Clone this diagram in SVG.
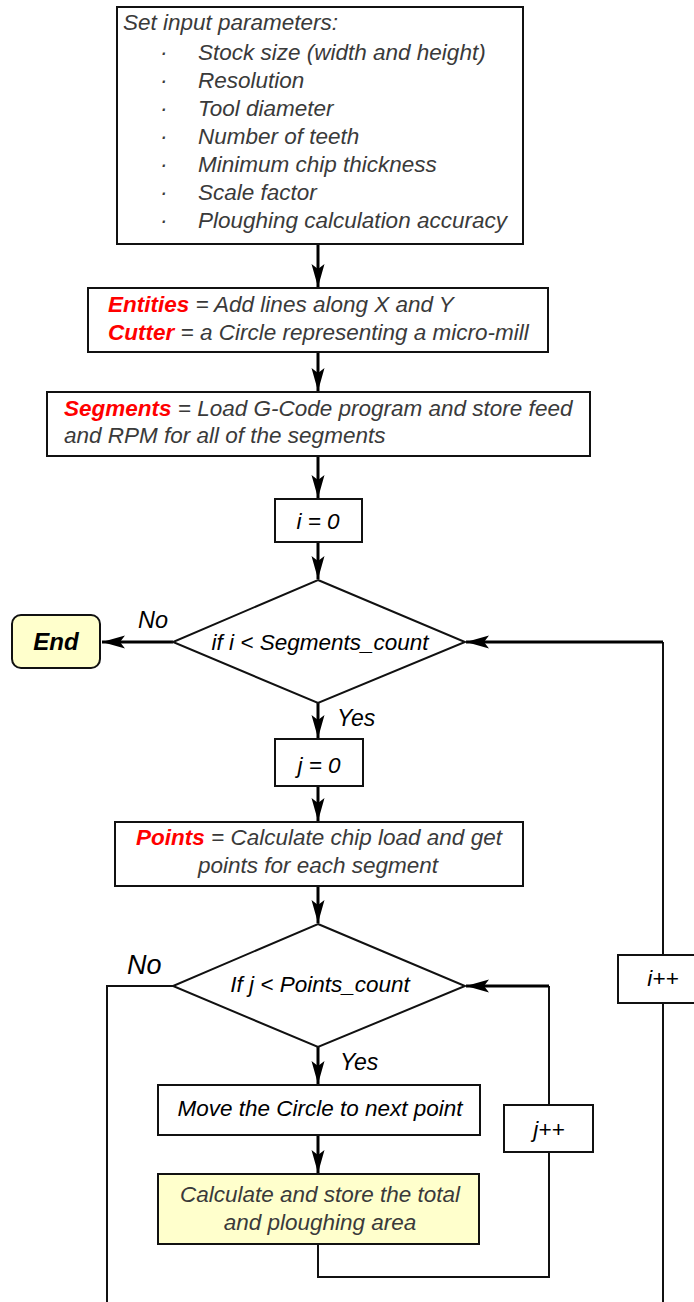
<svg xmlns="http://www.w3.org/2000/svg" width="694" height="1302" viewBox="0 0 694 1302">
  <style>
    text { font-family: "Liberation Sans", Arial, sans-serif; font-style: italic; font-size: 22.5px; }
    .gray { fill: #3a3a3a; }
    .dark { fill: #000; }
    .key { fill: #ff0000; font-weight: bold; }
    .mid { text-anchor: middle; }
    .box { fill: #fff; stroke: #111; stroke-width: 2; }
    .note { fill: #ffffcc; stroke: #111; stroke-width: 2; }
    .flow { fill: none; stroke: #000; stroke-width: 3; }
    .loop { fill: none; stroke: #111; stroke-width: 2; }
  </style>
  <defs>
    <marker id="head" viewBox="-24 -8 26 16" refX="0" refY="0" markerWidth="26" markerHeight="16" markerUnits="userSpaceOnUse" orient="auto">
      <path d="M0,0 L-23,-6.5 L-18,0 L-23,6.5 Z" fill="#000"/>
    </marker>
  </defs>

  <rect width="694" height="1302" fill="#fff"/>

  <!-- connectors -->
  <g id="connectors">
    <line class="flow" x1="318" y1="244" x2="318" y2="287" marker-end="url(#head)"/>
    <line class="flow" x1="318" y1="352" x2="318" y2="391" marker-end="url(#head)"/>
    <line class="flow" x1="318" y1="456" x2="318" y2="498" marker-end="url(#head)"/>
    <line class="flow" x1="318" y1="542" x2="318" y2="579" marker-end="url(#head)"/>
    <line class="flow" x1="173" y1="642" x2="102" y2="642" marker-end="url(#head)"/>
    <line class="flow" x1="318" y1="703" x2="318" y2="738" marker-end="url(#head)"/>
    <line class="flow" x1="318" y1="786" x2="318" y2="821" marker-end="url(#head)"/>
    <line class="flow" x1="318" y1="886" x2="318" y2="923" marker-end="url(#head)"/>
    <line class="flow" x1="318" y1="1047" x2="318" y2="1084" marker-end="url(#head)"/>
    <line class="flow" x1="318" y1="1135" x2="318" y2="1173" marker-end="url(#head)"/>
    <!-- inner loop: back to the j test -->
    <polyline class="loop" points="318,1244 318,1277 549,1277 549,1152"/>
    <polyline class="loop" points="549,1105 549,986"/>
    <line class="flow" x1="549" y1="986" x2="466" y2="986" marker-end="url(#head)"/>
    <!-- outer loop: back to the i test -->
    <polyline class="loop" points="663,1302 663,1003"/>
    <polyline class="loop" points="663,955 663,642"/>
    <line class="flow" x1="663" y1="642" x2="466" y2="642" marker-end="url(#head)"/>
    <!-- j test exit -->
    <polyline class="loop" points="173,986 107,986 107,1302"/>
  </g>

  <g id="params">
    <rect class="box" x="117" y="7" width="406" height="237"/>
    <text class="gray" x="123" y="30">Set input parameters:</text>
    <g class="gray">
      <text x="160" y="60">·</text><text x="198" y="60">Stock size (width and height)</text>
      <text x="160" y="88">·</text><text x="198" y="88">Resolution</text>
      <text x="160" y="116">·</text><text x="198" y="116">Tool diameter</text>
      <text x="160" y="144">·</text><text x="198" y="144">Number of teeth</text>
      <text x="160" y="172">·</text><text x="198" y="172">Minimum chip thickness</text>
      <text x="160" y="200">·</text><text x="198" y="200">Scale factor</text>
      <text x="160" y="228">·</text><text x="198" y="228">Ploughing calculation accuracy</text>
    </g>
  </g>

  <g id="entities">
    <rect class="box" x="88" y="288" width="460" height="64"/>
    <text class="gray" x="108" y="312"><tspan class="key">Entities</tspan> = Add lines along X and Y</text>
    <text class="gray" x="108" y="340"><tspan class="key">Cutter</tspan> = a Circle representing a micro-mill</text>
  </g>

  <g id="segments">
    <rect class="box" x="47" y="392" width="543" height="64"/>
    <text class="gray" x="64" y="416"><tspan class="key">Segments</tspan> = Load G-Code program and store feed</text>
    <text class="gray" x="64" y="443">and RPM for all of the segments</text>
  </g>

  <g id="init-i">
    <rect class="box" x="275" y="499" width="87" height="43"/>
    <text class="dark mid" x="318" y="529">i = 0</text>
  </g>

  <g id="test-i">
    <polygon class="box" points="318,580 465,642 318,703 173,642"/>
    <text class="dark mid" x="320" y="650">if i &lt; Segments_count</text>
    <text class="dark" x="138" y="628" style="font-size:23.5px">No</text>
    <text class="dark" x="337" y="726" style="font-size:23px">Yes</text>
  </g>

  <g id="end">
    <rect class="note" x="12" y="615" width="88" height="53" rx="9" ry="9"/>
    <text class="dark mid" x="56" y="650" style="font-weight:bold;font-size:24px">End</text>
  </g>

  <g id="init-j">
    <rect class="box" x="275" y="739" width="88" height="47"/>
    <text class="dark mid" x="319" y="773">j = 0</text>
  </g>

  <g id="points">
    <rect class="box" x="115" y="822" width="408" height="64"/>
    <text class="gray mid" x="319" y="845"><tspan class="key">Points</tspan> = Calculate chip load and get</text>
    <text class="gray mid" x="318" y="873">points for each segment</text>
  </g>

  <g id="test-j">
    <polygon class="box" points="318,924 465,986 318,1047 173,986"/>
    <text class="dark mid" x="320" y="992">If j &lt; Points_count</text>
    <text class="dark" x="127" y="974" style="font-size:27px">No</text>
    <text class="dark" x="340" y="1070" style="font-size:23px">Yes</text>
  </g>

  <g id="move">
    <rect class="box" x="158" y="1085" width="322" height="50"/>
    <text class="dark mid" x="320" y="1116">Move the Circle to next point</text>
  </g>

  <g id="area">
    <rect class="note" x="158" y="1174" width="321" height="70"/>
    <text class="gray mid" x="320" y="1202">Calculate and store the total</text>
    <text class="gray mid" x="320" y="1230">and ploughing area</text>
  </g>

  <g id="inc-j">
    <rect class="box" x="504" y="1105" width="89" height="47"/>
    <text class="dark mid" x="549" y="1137">j++</text>
  </g>

  <g id="inc-i">
    <rect class="box" x="618" y="955" width="90" height="48"/>
    <text class="dark mid" x="663" y="986">i++</text>
  </g>
</svg>
